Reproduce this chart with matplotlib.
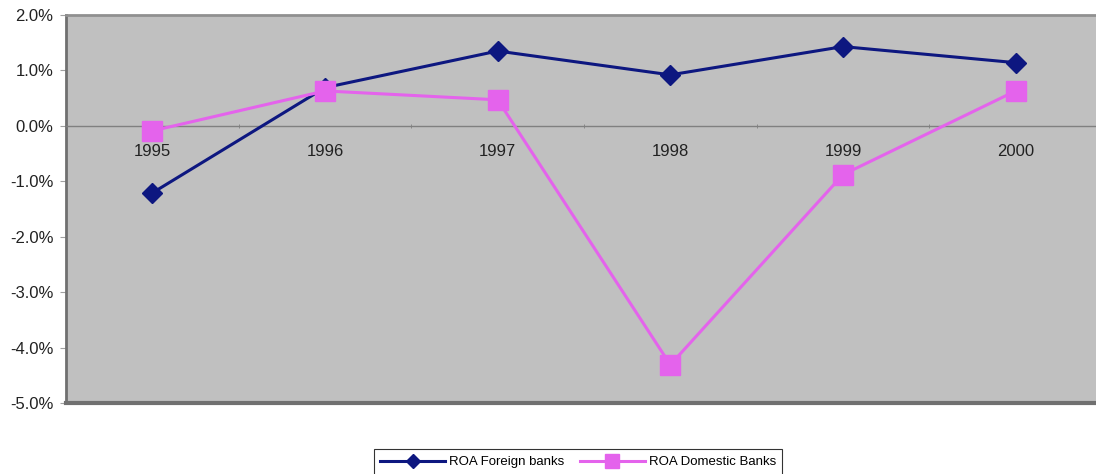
import matplotlib.pyplot as plt
from matplotlib.ticker import FuncFormatter

plt.rcParams['font.family'] = ['Liberation Sans', 'DejaVu Sans']

# Data (ROA, percent)
years = ['1995', '1996', '1997', '1998', '1999', '2000']
roa_foreign = [-1.21, 0.69, 1.35, 0.92, 1.43, 1.14]
roa_domestic = [-0.09, 0.63, 0.47, -4.31, -0.88, 0.63]

fig = plt.figure(figsize=(10.96, 4.74), dpi=100)
ax = fig.add_axes([66 / 1096, 1 - 403 / 474, 1036 / 1096, 388 / 474])
ax.set_facecolor('#c0c0c0')

x = range(len(years))
ax.plot(x, roa_foreign, color='#0d1780', lw=2.2, marker='D', ms=10,
        label='ROA Foreign banks', zorder=3)
ax.plot(x, roa_domestic, color='#e463ec', lw=2.2, marker='s', ms=14,
        label='ROA Domestic Banks', zorder=3)

ax.set_xlim(-0.5, 5.5)
ax.set_ylim(-5, 2)
ax.set_yticks([2, 1, 0, -1, -2, -3, -4, -5])
ax.yaxis.set_major_formatter(FuncFormatter(lambda v, p: f'{v:.1f}%'))
ax.tick_params(axis='y', labelsize=12, length=4, color='#a0a0a0', pad=5,
               labelcolor='#222222')

# category axis sits on the zero line
ax.spines['bottom'].set_position(('data', 0))
ax.spines['bottom'].set_color('#808080')
ax.spines['bottom'].set_linewidth(1)
ax.set_xticks(list(x))
ax.set_xticklabels(years)
ax.set_xticks([i + 0.5 for i in range(5)], minor=True)
ax.tick_params(axis='x', which='major', labelsize=12, length=0, pad=13,
               labelcolor='#222222')
ax.tick_params(axis='x', which='minor', length=3, direction='inout',
               color='#808080')

ax.spines['left'].set_color('#707070')
ax.spines['left'].set_linewidth(2)
ax.spines['top'].set_color('#909090')
ax.spines['top'].set_linewidth(2)
ax.spines['right'].set_visible(False)
ax.axhline(-5, color='#707070', lw=3, zorder=4, clip_on=False)

leg = ax.legend(loc='center', bbox_to_anchor=(578 / 1096, 1 - 462 / 474),
                bbox_transform=fig.transFigure, ncol=2, fontsize=9.5,
                frameon=True, fancybox=False, edgecolor='black',
                handlelength=4.9, handletextpad=0.3, markerscale=0.7,
                columnspacing=1.2, borderpad=0.5)
leg.get_frame().set_linewidth(0.8)

fig.savefig('out.png', dpi=100)
